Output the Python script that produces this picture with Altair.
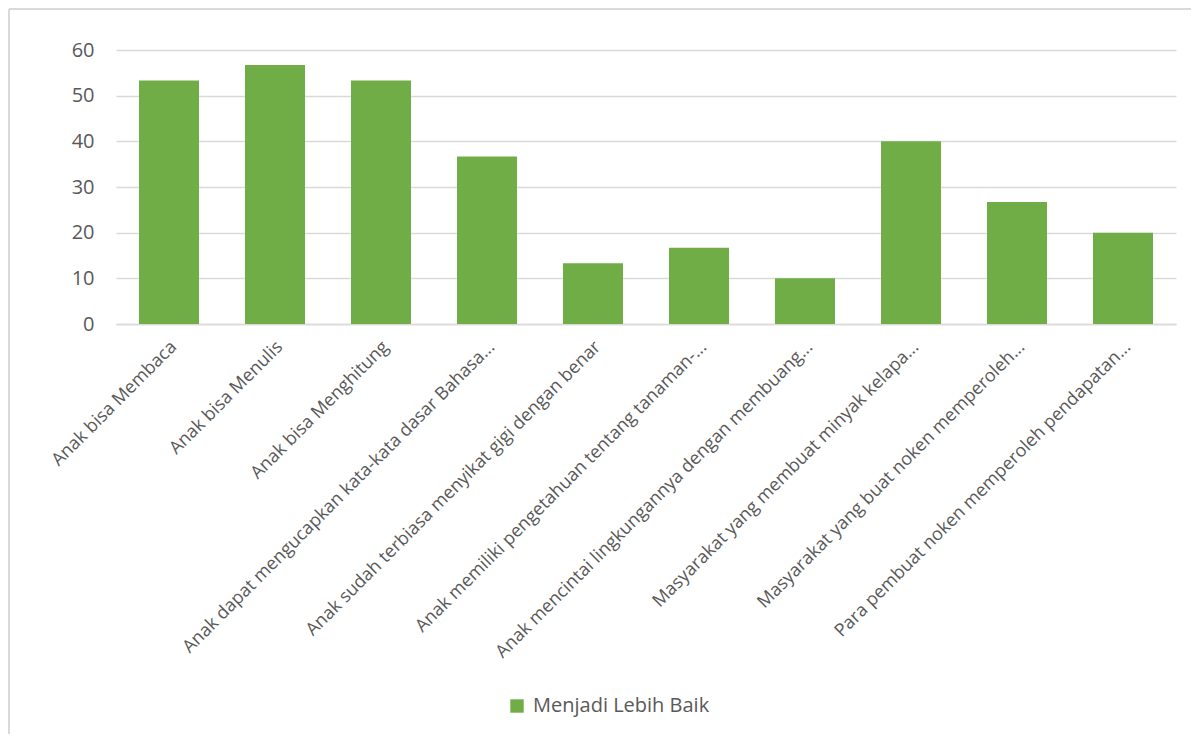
import altair as alt
import pandas as pd

categories = [
    "Anak bisa Membaca",
    "Anak bisa Menulis",
    "Anak bisa Menghitung",
    "Anak dapat mengucapkan kata-kata dasar Bahasa...",
    "Anak sudah terbiasa menyikat gigi dengan benar",
    "Anak memiliki pengetahuan tentang tanaman-...",
    "Anak mencintai lingkungannya dengan membuang...",
    "Masyarakat yang membuat minyak kelapa...",
    "Masyarakat yang buat noken memperoleh...",
    "Para pembuat noken memperoleh pendapatan...",
]
values = [53.3, 56.7, 53.3, 36.7, 13.3, 16.7, 10.0, 40.0, 26.7, 20.0]
series_name = "Menjadi Lebih Baik"
y_ticks = [0, 10, 20, 30, 40, 50, 60]

df = pd.DataFrame({"cat": categories, "val": values, "series": [series_name] * len(values)})

FONT = "Open Sans"
GRID = "#D9D9D9"
TEXT = "#595959"

bars = alt.Chart(df).mark_bar(color="#70AD47").encode(
    x=alt.X(
        "cat:N",
        sort=categories,
        title=None,
        scale=alt.Scale(paddingInner=0.434, paddingOuter=0.217),
        axis=alt.Axis(
            labelAngle=-45,
            labelAlign="right",
            labelBaseline="middle",
            labelFont=FONT,
            labelFontSize=18,
            labelColor=TEXT,
            labelPadding=20,
            labelOffset=5,
            labelLimit=0,
            ticks=False,
            domainColor=GRID,
            domainWidth=1.5,
            grid=False,
        ),
    ),
    y=alt.Y(
        "val:Q",
        title=None,
        scale=alt.Scale(domain=[0, 60], nice=False),
        axis=alt.Axis(
            values=y_ticks,
            labelFont=FONT,
            labelFontSize=20,
            labelColor=TEXT,
            labelPadding=22,
            ticks=False,
            domain=False,
            gridColor=GRID,
            gridWidth=1.5,
        ),
    ),
    color=alt.Color(
        "series:N",
        scale=alt.Scale(domain=[series_name], range=["#70AD47"]),
        legend=alt.Legend(
            title=None,
            orient="none",
            legendX=391,
            legendY=646,
            symbolType="square",
            symbolSize=180,
            symbolStrokeWidth=0,
            labelFont=FONT,
            labelFontSize=20,
            labelColor=TEXT,
            labelOffset=6,
            labelLimit=0,
        ),
    ),
)

frame_left = alt.Chart(df).mark_rule(color=GRID, strokeWidth=2).encode(
    x=alt.value(-107), y=alt.value(-41), y2=alt.value(700)
)
frame_top = alt.Chart(df).mark_rule(color=GRID, strokeWidth=2).encode(
    x=alt.value(-107), x2=alt.value(1100), y=alt.value(-41)
)

chart = alt.layer(frame_left, frame_top, bars).properties(
    width=1060,
    height=274,
    autosize=alt.AutoSizeParams(type="none"),
    padding={"left": 108, "top": 42, "right": 15, "bottom": 410},
).configure_view(stroke=None)

chart.save("out.html", embed_options={"renderer": "svg", "actions": False})
